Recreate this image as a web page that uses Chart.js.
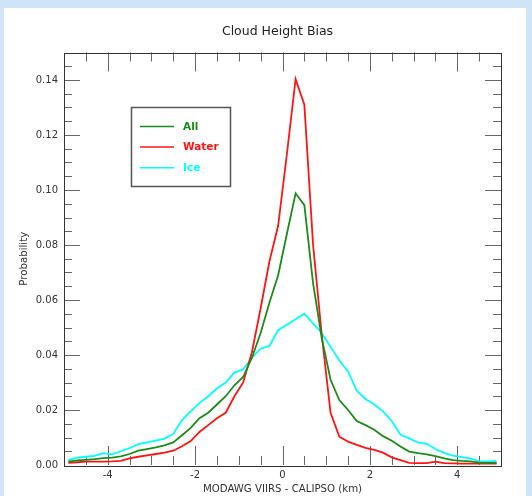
<!DOCTYPE html>
<html>
<head>
<meta charset="utf-8">
<script src="https://cdn.jsdelivr.net/npm/chart.js@4.4.0/dist/chart.umd.min.js"></script>
<style>
  html, body { margin: 0; padding: 0; background: #cfe4f7; overflow: hidden; }
  #panel { position: absolute; left: 4px; top: 8px; width: 522px; height: 488px; background: #fff; }
  #chart { position: absolute; left: 0; top: 0; }
</style>
</head>
<body>
<div id="panel"></div>
<canvas id="chart" width="532" height="496"></canvas>
<script>
// bias bins (km), bin centres
const binCenters = [
  -4.9, -4.7, -4.5, -4.3, -4.1, -3.9, -3.7, -3.5, -3.3, -3.1,
  -2.9, -2.7, -2.5, -2.3, -2.1, -1.9, -1.7, -1.5, -1.3, -1.1,
  -0.9, -0.7, -0.5, -0.3, -0.1, 0.1, 0.3, 0.5, 0.7, 0.9,
  1.1, 1.3, 1.5, 1.7, 1.9, 2.1, 2.3, 2.5, 2.7, 2.9,
  3.1, 3.3, 3.5, 3.7, 3.9, 4.1, 4.3, 4.5, 4.7, 4.9
];

const allProb = [
  0.0012, 0.0017, 0.0019, 0.0021, 0.0025, 0.0027, 0.0031, 0.0040, 0.0052, 0.0058,
  0.0064, 0.0071, 0.0082, 0.0108, 0.0135, 0.0170, 0.0190, 0.0220, 0.0250, 0.0290,
  0.0320, 0.0390, 0.0480, 0.0590, 0.0690, 0.0840, 0.0988, 0.0945, 0.0660, 0.0460,
  0.0310, 0.0236, 0.0200, 0.0160, 0.0145, 0.0128, 0.0105, 0.0088, 0.0067, 0.0049,
  0.0043, 0.0039, 0.0032, 0.0024, 0.0018, 0.0015, 0.0013, 0.0009, 0.0008, 0.0008
];

const waterProb = [
  0.0008, 0.0010, 0.0012, 0.0012, 0.0012, 0.0013, 0.0015, 0.0024, 0.0030, 0.0035,
  0.0040, 0.0045, 0.0052, 0.0068, 0.0087, 0.0120, 0.0145, 0.0170, 0.0190, 0.0250,
  0.0300, 0.0410, 0.0570, 0.0740, 0.0870, 0.1130, 0.1403, 0.1310, 0.0800, 0.0470,
  0.0190, 0.0103, 0.0085, 0.0073, 0.0062, 0.0055, 0.0045, 0.0028, 0.0018, 0.0008,
  0.0007, 0.0007, 0.0012, 0.0007, 0.0006, 0.0005, 0.0005, 0.0005, 0.0005, 0.0005
];

const iceProb = [
  0.0018, 0.0027, 0.0030, 0.0033, 0.0043, 0.0039, 0.0050, 0.0061, 0.0076, 0.0082,
  0.0089, 0.0096, 0.0113, 0.0163, 0.0195, 0.0225, 0.0250, 0.0278, 0.0300, 0.0336,
  0.0348, 0.0390, 0.0423, 0.0433, 0.0490, 0.0510, 0.0530, 0.0550, 0.0515, 0.0479,
  0.0430, 0.0380, 0.0340, 0.0270, 0.0240, 0.0220, 0.0195, 0.0160, 0.0110, 0.0097,
  0.0082, 0.0077, 0.0058, 0.0044, 0.0034, 0.0029, 0.0024, 0.0013, 0.0013, 0.0015
];

const seriesNames = ['All', 'Water', 'Ice'];
const seriesColors = ['#1a8c1a', '#ff1414', '#00ffff'];

const xTickVals = [-4, -2, 0, 2, 4];
const yTickVals = [0, 0.02, 0.04, 0.06, 0.08, 0.10, 0.12, 0.14];

Chart.defaults.font.family = "'DejaVu Sans', sans-serif";
Chart.defaults.color = '#333';

function toPoints(vals) {
  return binCenters.map((x, i) => ({ x: x, y: vals[i] }));
}

// title sits a little left of the plot centre
const plotTitle = {
  id: 'plotTitle',
  afterDraw(chart) {
    const ctx = chart.ctx;
    ctx.save();
    ctx.font = "12.5px 'DejaVu Sans', sans-serif";
    ctx.fillStyle = '#222';
    ctx.textAlign = 'center';
    ctx.textBaseline = 'middle';
    ctx.fillText('Cloud Height Bias', 277.5, 31.5);
    ctx.restore();
  }
};

// frame with inward ticks on all four sides
const frameTicks = {
  id: 'frameTicks',
  beforeDatasetsDraw(chart) {
    const { ctx, chartArea: a, scales: { x, y } } = chart;
    ctx.save();
    ctx.strokeStyle = '#666';
    ctx.lineWidth = 1;
    ctx.beginPath();
    for (let v = x.min + 0.5; v < x.max; v += 0.5) {
      const px = Math.round(x.getPixelForValue(v)) + 0.5;
      const len = xTickVals.includes(v) ? 19 : 9;
      ctx.moveTo(px, a.bottom); ctx.lineTo(px, a.bottom - len);
      ctx.moveTo(px, a.top); ctx.lineTo(px, a.top + len);
    }
    for (let i = 1; i * 0.005 < y.max - 1e-9; i++) {
      const py = Math.round(y.getPixelForValue(i * 0.005)) + 0.5;
      const len = i % 4 === 0 ? 16 : 8;
      ctx.moveTo(a.left, py); ctx.lineTo(a.left + len, py);
      ctx.moveTo(a.right, py); ctx.lineTo(a.right - len, py);
    }
    ctx.stroke();
    ctx.strokeStyle = '#333';
    ctx.strokeRect(Math.round(a.left) + 0.5, Math.round(a.top) + 0.5,
      Math.round(a.right - a.left), Math.round(a.bottom - a.top));
    ctx.restore();
  }
};

// boxed legend inside the plot
const boxLegend = {
  id: 'boxLegend',
  afterDraw(chart) {
    const ctx = chart.ctx;
    ctx.save();
    ctx.strokeStyle = '#555';
    ctx.lineWidth = 1.5;
    ctx.strokeRect(131.5, 107.5, 99, 79);
    ctx.font = "bold 10.5px 'DejaVu Sans', sans-serif";
    ctx.textBaseline = 'middle';
    chart.data.datasets.forEach((ds, i) => {
      const cy = 126.5 + i * 20.6;
      ctx.strokeStyle = ds.borderColor;
      ctx.lineWidth = 1.5;
      ctx.beginPath();
      ctx.moveTo(140, cy);
      ctx.lineTo(174, cy);
      ctx.stroke();
      ctx.fillStyle = ds.borderColor;
      ctx.fillText(ds.label, 183, cy + 0.5);
    });
    ctx.restore();
  }
};

new Chart(document.getElementById('chart'), {
  type: 'line',
  data: {
    datasets: [allProb, waterProb, iceProb].map((vals, i) => ({
      label: seriesNames[i],
      data: toPoints(vals),
      borderColor: seriesColors[i],
      backgroundColor: seriesColors[i],
      borderWidth: 1.8,
      pointRadius: 0,
      tension: 0,
      fill: false
    }))
  },
  options: {
    responsive: false,
    animation: false,
    layout: { padding: { left: 0, right: 31, top: 52.5, bottom: 0 } },
    plugins: {
      legend: { display: false },
      tooltip: { enabled: false },
      title: { display: false }
    },
    scales: {
      x: {
        type: 'linear',
        min: -5,
        max: 5,
        grid: { display: false, drawTicks: false },
        border: { display: false },
        afterBuildTicks: s => { s.ticks = xTickVals.map(v => ({ value: v })); },
        afterFit: s => { s.height = 31; },
        ticks: {
          padding: 4,
          autoSkip: false,
          maxRotation: 0,
          font: { size: 10 },
          callback: v => String(v)
        },
        title: {
          display: true,
          text: 'MODAWG VIIRS - CALIPSO (km)',
          font: { size: 10.2 },
          padding: { top: 0, bottom: 1 }
        }
      },
      y: {
        type: 'linear',
        min: 0,
        max: 0.15,
        grid: { display: false, drawTicks: false },
        border: { display: false },
        afterBuildTicks: s => { s.ticks = yTickVals.map(v => ({ value: v })); },
        afterFit: s => { s.width = 64; },
        ticks: {
          padding: 6,
          font: { size: 10 },
          callback: v => v.toFixed(2)
        },
        title: {
          display: true,
          text: 'Probability',
          font: { size: 10.2 },
          padding: { top: 18, bottom: 0 }
        }
      }
    }
  },
  plugins: [frameTicks, boxLegend, plotTitle]
});
</script>
</body>
</html>
